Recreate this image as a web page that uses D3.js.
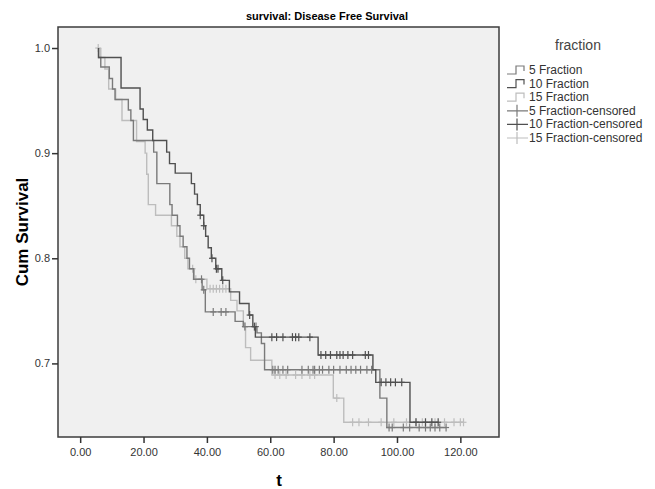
<!DOCTYPE html>
<html>
<head>
<meta charset="utf-8">
<script src="https://cdn.jsdelivr.net/npm/d3@7"></script>
<style>
  body { margin: 0; background: #fff; }
  text { font-family: "Liberation Sans", Arial, sans-serif; }
</style>
</head>
<body>
<svg id="chart" width="655" height="489"></svg>
<script>
// group names
var groups = ["5 Fraction", "10 Fraction", "15 Fraction"];

// event times and survival after each event, per group
var t5  = [5.8, 6.5, 9.2, 10.2, 11.0, 15.2, 16.0, 16.8, 23.2, 24.2, 28.3, 29.0, 30.7, 31.5, 32.5, 33.7, 34.5, 35.8, 38.5, 39.5, 48.9, 51.5, 55.8, 57.2, 58.2, 94.6, 96.8];
var s5  = [0.991, 0.982, 0.971, 0.961, 0.951, 0.941, 0.931, 0.912, 0.901, 0.871, 0.851, 0.841, 0.831, 0.821, 0.811, 0.800, 0.790, 0.780, 0.770, 0.749, 0.740, 0.735, 0.729, 0.719, 0.694, 0.667, 0.639];
var t10 = [5.8, 12.9, 18.9, 19.9, 21.2, 22.9, 27.3, 28.2, 30.0, 35.1, 36.1, 37.0, 37.9, 39.0, 39.6, 40.4, 41.4, 42.8, 44.7, 47.1, 50.3, 53.3, 54.5, 55.3, 75.1, 92.4, 93.3, 104.1];
var s10 = [0.991, 0.962, 0.942, 0.932, 0.922, 0.912, 0.901, 0.890, 0.881, 0.871, 0.861, 0.851, 0.841, 0.831, 0.821, 0.810, 0.800, 0.790, 0.779, 0.768, 0.757, 0.746, 0.735, 0.725, 0.708, 0.694, 0.682, 0.644];
var t15 = [6.5, 7.8, 9.0, 11.2, 13.2, 17.8, 20.5, 21.0, 21.5, 23.8, 28.8, 30.5, 31.5, 33.0, 34.0, 36.0, 40.0, 47.5, 49.5, 51.5, 52.2, 53.8, 60.5, 79.9, 83.2];
var s15 = [0.991, 0.980, 0.961, 0.951, 0.931, 0.911, 0.900, 0.880, 0.851, 0.841, 0.831, 0.821, 0.811, 0.800, 0.790, 0.780, 0.771, 0.760, 0.750, 0.735, 0.715, 0.703, 0.689, 0.667, 0.644];

// censored times per group
var c5  = [38.3, 39.0, 42.0, 44.5, 46.0, 52.0, 55.5, 60.8, 61.5, 62.5, 64.0, 65.5, 70.0, 72.0, 73.5, 74.0, 75.5, 76.5, 78.5, 80.0, 82.0, 84.0, 85.5, 87.0, 88.5, 90.5, 92.0, 97.5, 98.5, 102.0, 104.0, 107.0, 109.0, 110.5, 112.0, 113.5, 115.5];
var c10 = [37.9, 39.0, 41.6, 43.0, 43.5, 45.0, 53.5, 55.0, 60.5, 62.0, 64.0, 67.0, 68.0, 69.0, 72.5, 76.0, 77.5, 79.0, 81.0, 82.0, 83.0, 84.5, 86.0, 90.0, 91.0, 95.0, 96.5, 98.0, 99.5, 101.5, 106.0, 109.0, 111.0, 113.0];
var c15 = [5.7, 35.5, 36.5, 41.0, 42.0, 43.0, 44.0, 45.0, 46.0, 52.0, 61.5, 63.0, 65.0, 68.0, 70.0, 72.5, 74.0, 81.0, 86.0, 88.0, 91.0, 95.0, 99.0, 103.0, 106.0, 108.0, 112.0, 115.0, 118.0, 120.0, 121.0];

var xTicks = [0, 20, 40, 60, 80, 100, 120];
var yTicks = [0.7, 0.8, 0.9, 1.0];

var colors = {"5 Fraction": "#7a7a7a", "10 Fraction": "#505050", "15 Fraction": "#bdbdbd"};

var series = [
    {name: "5 Fraction", t: t5, s: s5, c: c5},
    {name: "10 Fraction", t: t10, s: s10, c: c10},
    {name: "15 Fraction", t: t15, s: s15, c: c15}
];

var svg = d3.select("#chart");
var pLeft = 58, pRight = 499, pTop = 27, pBottom = 437;

var x = d3.scaleLinear().domain([-7, 132.2]).range([pLeft, pRight]);
var y = d3.scaleLinear().domain([0.63, 1.02]).range([pBottom, pTop]);

svg.append("rect")
    .attr("x", pLeft).attr("y", pTop)
    .attr("width", pRight - pLeft).attr("height", pBottom - pTop)
    .attr("fill", "#f0f0f0")

// survival at time t (after events at or before t)
var survAt = function(d, t){
    var v = 1;
    d.t.forEach(function(tt, i){ if (tt <= t) v = d.s[i]; });
    return v;
}

var stepLine = d3.line()
    .x(p => x(p[0]))
    .y(p => y(p[1]))
    .curve(d3.curveStepAfter);

var plot = svg.append("g");

// draw light first so darker curves sit on top
[2, 0, 1].forEach(function(k){
    var d = series[k];
    var pts = [[d.t[0], 1]];
    d.t.forEach((tt, i) => pts.push([tt, d.s[i]]));
    var tEnd = Math.max(d3.max(d.t), d3.max(d.c));
    pts.push([tEnd, d.s[d.s.length - 1]]);

    plot.append("path")
        .attr("d", stepLine(pts))
        .attr("fill", "none")
        .attr("stroke", colors[d.name])
        .attr("stroke-width", 1.4)

    var marks = plot.selectAll(null)
        .data(d.c)
        .enter().append("g")
        .attr("transform", c => "translate(" + x(c) + "," + y(survAt(d, c)) + ")")
    marks.append("line")
        .attr("x1", 0).attr("x2", 0).attr("y1", -4).attr("y2", 4)
        .attr("stroke", colors[d.name]).attr("stroke-width", 1.2)
    marks.append("line")
        .attr("x1", -3).attr("x2", 3).attr("y1", 0).attr("y2", 0)
        .attr("stroke", colors[d.name]).attr("stroke-width", 1.2)
});

svg.append("rect")
    .attr("x", pLeft).attr("y", pTop)
    .attr("width", pRight - pLeft).attr("height", pBottom - pTop)
    .attr("fill", "none")
    .attr("stroke", "#3c3c3c")
    .attr("stroke-width", 1.5)

var yAxis = svg.append("g")
    .attr("transform", "translate(" + pLeft + ",0)")
    .call(d3.axisLeft(y).tickValues(yTicks).tickFormat(d3.format(".1f")).tickSize(6).tickPadding(2))
var xAxis = svg.append("g")
    .attr("transform", "translate(0," + pBottom + ")")
    .call(d3.axisBottom(x).tickValues(xTicks).tickFormat(d3.format(".2f")).tickSize(6).tickPadding(5))

svg.selectAll(".domain").remove();
svg.selectAll(".tick line").attr("stroke", "#333").attr("stroke-width", 1.5);
svg.selectAll(".tick text").attr("fill", "#333")
    .style("font-family", "'Liberation Sans', Arial, sans-serif")
    .style("font-size", "11px");

svg.append("text")
    .attr("x", 327).attr("y", 20)
    .attr("text-anchor", "middle")
    .style("font-size", "11px").style("font-weight", "bold")
    .text("survival: Disease Free Survival")

svg.append("text")
    .attr("transform", "translate(28,232) rotate(-90)")
    .attr("text-anchor", "middle")
    .style("font-size", "17px").style("font-weight", "bold")
    .text("Cum Survival")

svg.append("text")
    .attr("x", 279).attr("y", 486)
    .attr("text-anchor", "middle")
    .style("font-size", "17px").style("font-weight", "bold")
    .text("t")

// legend
var legend = svg.append("g");
legend.append("text")
    .attr("x", 578).attr("y", 50)
    .attr("text-anchor", "middle")
    .attr("fill", "#444")
    .style("font-size", "14px")
    .text("fraction")

var items = groups.map(g => ({label: g, kind: "line", color: colors[g]}))
    .concat(groups.map(g => ({label: g + "-censored", kind: "cross", color: colors[g]})));

var row = legend.selectAll(".item")
    .data(items)
    .enter().append("g")
    .attr("class", "item")
    .attr("transform", (d, i) => "translate(0," + (70 + i * 13.6) + ")")

row.filter(d => d.kind == "line").append("path")
    .attr("d", "M507,4H516V-4H524V1")
    .attr("fill", "none")
    .attr("stroke", d => d.color)
    .attr("stroke-width", 1.2)

row.filter(d => d.kind == "cross").append("path")
    .attr("d", "M507,0H528M517,-6V6")
    .attr("fill", "none")
    .attr("stroke", d => d.color)
    .attr("stroke-width", 1.2)

row.append("text")
    .attr("x", 529).attr("y", 4)
    .attr("fill", "#333")
    .style("font-size", "12px")
    .text(d => d.label)
</script>
</body>
</html>
